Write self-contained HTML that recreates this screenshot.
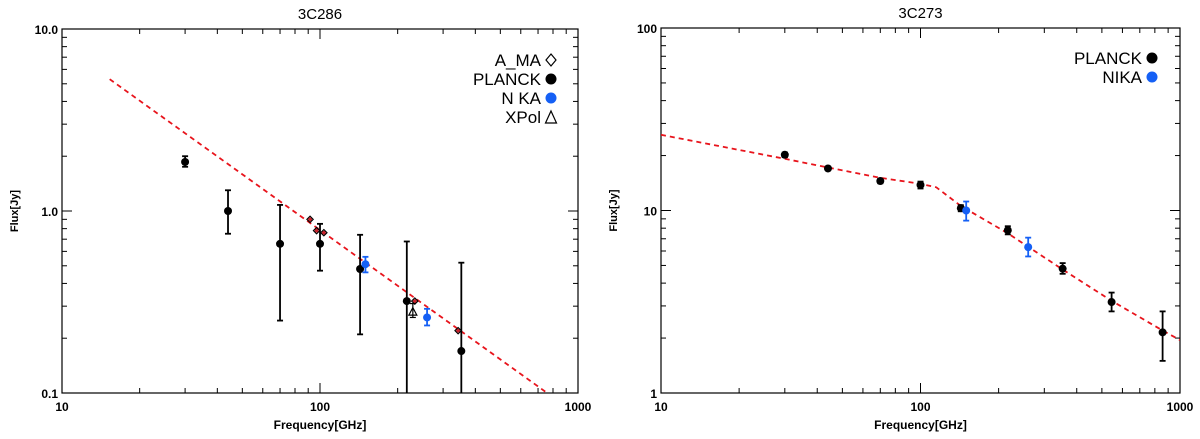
<!DOCTYPE html>
<html><head><meta charset="utf-8">
<style>
html,body{margin:0;padding:0;background:#fff;width:1200px;height:439px;overflow:hidden}
svg{display:block;font-family:"Liberation Sans",sans-serif}
</style></head>
<body>
<svg id="chart" width="1200" height="439" viewBox="0 0 1200 439"></svg>
<script>
// ---- 3C286 data ----
const l_planckFreq=[30,44,70,100,143,217,353];
const l_planckFlux=[1.86,1.0,0.66,0.66,0.48,0.32,0.17];
const l_planckLo=[1.75,0.75,0.25,0.47,0.21,0.1,0.1];
const l_planckHi=[2.0,1.3,1.08,0.85,0.74,0.68,0.52];
const l_almaFreq=[91.5,97,103.5,233,343];
const l_almaFlux=[0.90,0.78,0.76,0.32,0.22];
const l_nikaFreq=[150,260];
const l_nikaFlux=[0.51,0.26];
const l_nikaLo=[0.46,0.235];
const l_nikaHi=[0.56,0.29];
const l_xpolFreq=[229];
const l_xpolFlux=[0.28];
const l_xpolLo=[0.26];
const l_xpolHi=[0.31];
const l_modelFreq=[15.3,760];
const l_modelFlux=[5.3,0.1];
// ---- 3C273 data ----
const r_planckFreq=[30,44,70,100,143,217,353,545,857];
const r_planckFlux=[20.2,17,14.5,13.8,10.3,7.8,4.8,3.15,2.15];
const r_planckLo=[19.6,16.6,14.1,13.2,9.9,7.4,4.5,2.8,1.5];
const r_planckHi=[20.8,17.4,14.9,14.4,10.7,8.2,5.15,3.55,2.8];
const r_nikaFreq=[150,260];
const r_nikaFlux=[10,6.3];
const r_nikaLo=[8.8,5.6];
const r_nikaHi=[11.2,7.1];
const r_modelFreq=[10,30,44,70,100,115,143,217,353,545,857,1000];
const r_modelFlux=[26,19.2,17.2,15.1,14,13.4,10.6,7.5,4.75,3.2,2.2,1.95];

const NS="http://www.w3.org/2000/svg";
const svg=document.getElementById('chart');
function mk(tag,attrs,parent){const e=document.createElementNS(NS,tag);for(const k in attrs)e.setAttribute(k,attrs[k]);(parent||svg).appendChild(e);return e;}

function panel(o){
  const g=mk('g',{});
  
  
  const X=f=>o.x0+(Math.log10(f)-Math.log10(o.xmin))/(Math.log10(o.xmax)-Math.log10(o.xmin))*(o.x1-o.x0);
  const Y=v=>o.y1-(Math.log10(v)-Math.log10(o.ymin))/(Math.log10(o.ymax)-Math.log10(o.ymin))*(o.y1-o.y0);
  const clip='clip-'+o.name;
  const cp=mk('clipPath',{id:clip},g);mk('rect',{x:o.x0,y:o.y0,width:o.x1-o.x0,height:o.y1-o.y0},cp);
  const fr=mk('rect',{x:o.x0,y:o.y0,width:o.x1-o.x0,height:o.y1-o.y0,fill:'none',stroke:'#000','stroke-width':1.2},g);
  
  for(let d=Math.log10(o.xmin);d<Math.log10(o.xmax);d++){
    for(let m=1;m<10;m++){const f=m*Math.pow(10,d);const x=X(f);const L=m==1?10:5;
      if(m>1||d>Math.log10(o.xmin)){mk('line',{x1:x,x2:x,y1:o.y1,y2:o.y1-L,stroke:'#000'},g);mk('line',{x1:x,x2:x,y1:o.y0,y2:o.y0+L,stroke:'#000'},g);}}
  }
  for(let d=Math.log10(o.ymin);d<Math.log10(o.ymax);d++){
    for(let m=1;m<10;m++){const v=m*Math.pow(10,d);const y=Y(v);const L=m==1?10:5;
      if(m>1||d>Math.log10(o.ymin)){mk('line',{x1:o.x0,x2:o.x0+L,y1:y,y2:y,stroke:'#000'},g);mk('line',{x1:o.x1,x2:o.x1-L,y1:y,y2:y,stroke:'#000'},g);}}
  }
  o.xTicks.forEach((t,i)=>{const e=mk('text',{x:X(t),y:o.y1+18,'text-anchor':'middle','font-size':12,'font-weight':'bold'},g);e.textContent=o.xTickLabels[i];
    });
  o.yTicks.forEach((t,i)=>{const e=mk('text',{x:o.x0-4,y:Y(t)+5,'text-anchor':'end','font-size':12,'font-weight':'bold'},g);e.textContent=o.yTickLabels[i];
    });
  let e=mk('text',{x:(o.x0+o.x1)/2,y:o.y1+36,'text-anchor':'middle','font-size':12,'font-weight':'bold'},g);e.textContent='Frequency[GHz]';
  
  const cy=(o.y0+o.y1)/2;
  e=mk('text',{x:o.x0-44,y:cy,'text-anchor':'middle','font-size':11,'font-weight':'bold',transform:`rotate(-90 ${o.x0-44} ${cy})`},g);e.textContent='Flux[Jy]';
  
  e=mk('text',{x:(o.x0+o.x1)/2,y:o.y0-10,'text-anchor':'middle','font-size':15},g);e.textContent=o.title;
  
  const pts=o.mf.map((f,i)=>X(f).toFixed(1)+','+Y(o.mv[i]).toFixed(1)).join(' ');
  e=mk('polyline',{points:pts,fill:'none',stroke:'#e8141c','stroke-width':1.8,'stroke-dasharray':'5,4','clip-path':`url(#${clip})`},g);
  
  o.series.forEach(s=>{
    s.f.forEach((f,i)=>{
      const x=X(f),y=Y(s.v[i]);
      if(s.lo){const yl=Y(Math.max(s.lo[i],o.ymin)),yh=Y(s.hi[i]);
        const eb=mk('g',{stroke:s.color,'stroke-width':s.ew||1.8},g);
        
        mk('line',{x1:x,x2:x,y1:yl,y2:yh},eb);mk('line',{x1:x-3,x2:x+3,y1:yh,y2:yh},eb);
        if(s.lo[i]>o.ymin)mk('line',{x1:x-3,x2:x+3,y1:yl,y2:yl},eb);}
      let m;
      if(s.shape=='dot')m=mk('circle',{cx:x,cy:y,r:4,fill:s.color},g);
      else if(s.shape=='diamond'){m=mk('g',{},g);mk('circle',{cx:x,cy:y,r:2,fill:'#c8202a'},m);mk('path',{d:`M${x} ${y-3.2}L${x+3.2} ${y}L${x} ${y+3.2}L${x-3.2} ${y}Z`,fill:'none',stroke:'#000','stroke-width':1.1},m);}
      else m=mk('path',{d:`M${x} ${y-4}L${x+4} ${y+3.5}L${x-4} ${y+3.5}Z`,fill:'none',stroke:'#000','stroke-width':1.2},g);
      
    });
  });
  o.legend.forEach((L,i)=>{
    const y=o.legY+i*19;
    const t=mk('text',{x:o.legX-10,y:y+6,'text-anchor':'end','font-size':17,'font-weight':'300'},g);t.textContent=L.label;
    
    const x=o.legX;let m;
    if(L.shape=='dot')m=mk('circle',{cx:x,cy:y,r:5.5,fill:L.color},g);
    else if(L.shape=='diamond')m=mk('path',{d:`M${x} ${y-6}L${x+5} ${y}L${x} ${y+6}L${x-5} ${y}Z`,fill:'none',stroke:'#000','stroke-width':1.2},g);
    else m=mk('path',{d:`M${x} ${y-6}L${x+5.5} ${y+6}L${x-5.5} ${y+6}Z`,fill:'none',stroke:'#000','stroke-width':1.2},g);
    
  });
}

panel({name:'panel-3c286',title:'3C286',x0:62,x1:578,y0:29,y1:393,xmin:10,xmax:1000,ymin:0.1,ymax:10,
  xTicks:[10,100,1000],xTickLabels:['10','100','1000'],yTicks:[0.1,1,10],yTickLabels:['0.1','1.0','10.0'],
  mf:l_modelFreq,mv:l_modelFlux,legX:551,legY:60,
  legend:[{label:'A_MA',shape:'diamond'},{label:'PLANCK',shape:'dot',color:'#000'},{label:'N KA',shape:'dot',color:'#1560f5'},{label:'XPol',shape:'tri'}],
  series:[
    {name:'planck',f:l_planckFreq,v:l_planckFlux,lo:l_planckLo,hi:l_planckHi,color:'#000',shape:'dot'},
    {name:'alma',f:l_almaFreq,v:l_almaFlux,color:'#000',shape:'diamond'},
    {name:'xpol',f:l_xpolFreq,v:l_xpolFlux,lo:l_xpolLo,hi:l_xpolHi,color:'#000',shape:'tri',ew:1.2},
    {name:'nika',f:l_nikaFreq,v:l_nikaFlux,lo:l_nikaLo,hi:l_nikaHi,color:'#1560f5',shape:'dot'}]});

panel({name:'panel-3c273',title:'3C273',x0:661,x1:1180,y0:28,y1:393,xmin:10,xmax:1000,ymin:1,ymax:100,
  xTicks:[10,100,1000],xTickLabels:['10','100','1000'],yTicks:[1,10,100],yTickLabels:['1','10','100'],
  mf:r_modelFreq,mv:r_modelFlux,legX:1152,legY:58,
  legend:[{label:'PLANCK',shape:'dot',color:'#000'},{label:'NIKA',shape:'dot',color:'#1560f5'}],
  series:[
    {name:'planck',f:r_planckFreq,v:r_planckFlux,lo:r_planckLo,hi:r_planckHi,color:'#000',shape:'dot'},
    {name:'nika',f:r_nikaFreq,v:r_nikaFlux,lo:r_nikaLo,hi:r_nikaHi,color:'#1560f5',shape:'dot'}]});
</script>
</body></html>
